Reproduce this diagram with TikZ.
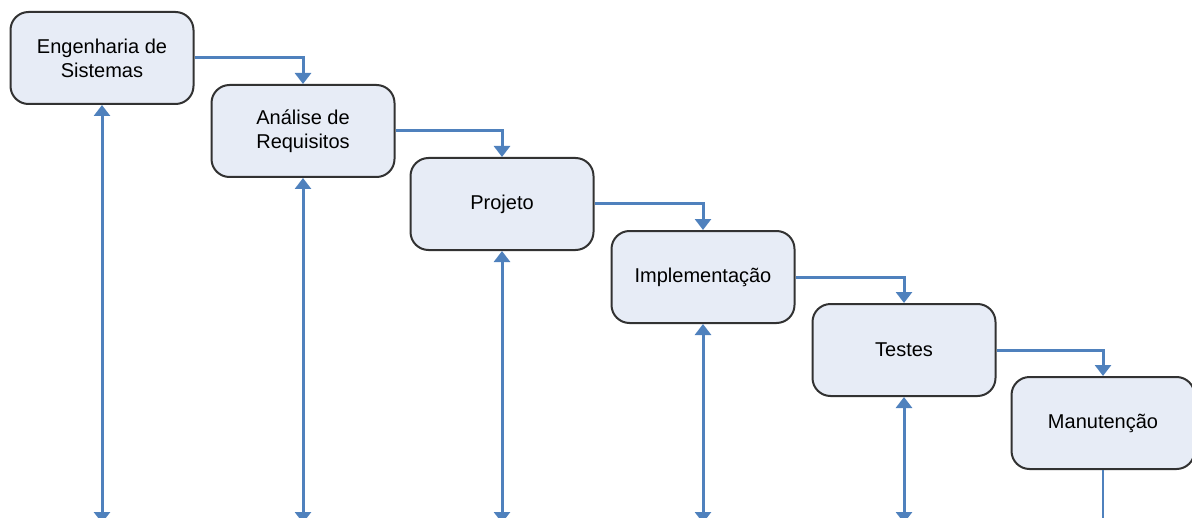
\documentclass[tikz,border=0pt]{standalone}
\usepackage{fontspec}
\setmainfont{Liberation Sans}
\usetikzlibrary{arrows.meta}
\definecolor{flowblue}{RGB}{79,129,189}
\definecolor{boxfill}{RGB}{231,236,246}
\definecolor{boxline}{RGB}{50,50,50}
\begin{document}
\begin{tikzpicture}[x=0.5pt,y=-0.5pt,
  phase/.style={draw=boxline,fill=boxfill,line width=1pt,rounded corners=9pt,
    minimum width=91.5pt,minimum height=46pt,align=center,
    font=\fontsize{10}{12}\selectfont},
  flow/.style={draw=flowblue,line width=1.5pt,-{Triangle[width=8pt,length=5.5pt]}},
  loop/.style={draw=flowblue,line width=1.5pt,{Triangle[width=8pt,length=5.5pt]}-{Triangle[width=8pt,length=5.5pt]}}]
\clip (0,0) rectangle (1192,518);
\node at (102,58) [phase] (Phase1) {Engenharia de\\Sistemas};
\node at (303,131) [phase] (Phase2) {Análise de\\Requisitos};
\node at (502,204) [phase] (Phase3) {Projeto};
\node at (703,277) [phase] (Phase4) {Implementação};
\node at (904,350) [phase] (Phase5) {Testes};
\node at (1103,423) [phase] (Phase6) {Manutenção};
\coordinate (Foot1) at (102,523);
\coordinate (Foot2) at (303,523);
\coordinate (Foot3) at (502,523);
\coordinate (Foot4) at (703,523);
\coordinate (Foot5) at (904,523);
\coordinate (Foot6) at (1103,523);
\draw [flow] (Phase1.east) -| (Phase2.north);
\draw [flow] (Phase2.east) -| (Phase3.north);
\draw [flow] (Phase3.east) -| (Phase4.north);
\draw [flow] (Phase4.east) -| (Phase5.north);
\draw [flow] (Phase5.east) -| (Phase6.north);
\draw [loop] (Phase1.south) -- (Foot1);
\draw [loop] (Phase2.south) -- (Foot2);
\draw [loop] (Phase3.south) -- (Foot3);
\draw [loop] (Phase4.south) -- (Foot4);
\draw [loop] (Phase5.south) -- (Foot5);
\draw [flowblue,line width=0.8pt] (Phase6.south) -- (Foot6);
\end{tikzpicture}
\end{document}
